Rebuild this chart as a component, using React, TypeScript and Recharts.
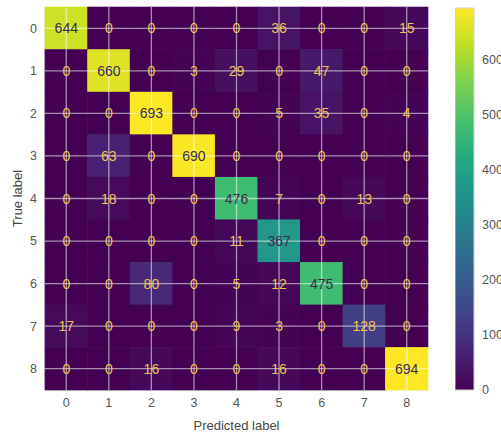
import { ScatterChart, Scatter, XAxis, YAxis, BarChart, Bar } from 'recharts';

const classLabels = [0, 1, 2, 3, 4, 5, 6, 7, 8];

// rows = true label, columns = predicted label
const matrix = [
  [644, 0, 0, 0, 0, 36, 0, 0, 15],
  [0, 660, 0, 3, 29, 0, 47, 0, 0],
  [0, 0, 693, 0, 0, 5, 35, 0, 4],
  [0, 63, 0, 690, 0, 0, 0, 0, 0],
  [0, 18, 0, 0, 476, 7, 0, 13, 0],
  [0, 0, 0, 0, 11, 367, 0, 0, 0],
  [0, 0, 80, 0, 5, 12, 475, 0, 0],
  [17, 0, 0, 0, 9, 3, 0, 128, 0],
  [0, 0, 16, 0, 0, 16, 0, 0, 694],
];

const colorbarTicks = [0, 100, 200, 300, 400, 500, 600];

const vmin = Math.min(...matrix.flat());
const vmax = Math.max(...matrix.flat());
const thresh = (vmin + vmax) / 2;

const cells = matrix.flatMap((row, i) => row.map((v, j) => ({ x: j, y: i, v })));

const viridis = ['#440154', '#482475', '#414487', '#355f8d', '#2a788e', '#21918c', '#22a884', '#44bf70', '#7ad151', '#bddf26', '#fde725'];

const hex = (c: string) => [1, 3, 5].map((k) => parseInt(c.slice(k, k + 2), 16));
const colorAt = (t: number) => {
  const p = Math.max(0, Math.min(1, t)) * (viridis.length - 1);
  const i = Math.min(Math.floor(p), viridis.length - 2);
  const f = p - i;
  const a = hex(viridis[i]);
  const b = hex(viridis[i + 1]);
  const m = a.map((x, k) => Math.round(x + (b[k] - x) * f));
  return `rgb(${m[0]},${m[1]},${m[2]})`;
};

const W = 501;
const H = 432;
const M = { top: 7, right: 73, left: 0, bottom: 0 };
const Y_W = 45;
const X_H = 42;
const plotW = W - M.left - M.right - Y_W;
const plotH = H - M.top - M.bottom - X_H;
const cw = plotW / classLabels.length;
const ch = plotH / classLabels.length;

const CellRect = (props: any) => {
  const { cx, cy, payload } = props;
  return (
    <rect
      x={cx - cw / 2 - 0.3}
      y={cy - ch / 2 - 0.3}
      width={cw + 0.6}
      height={ch + 0.6}
      fill={colorAt((payload.v - vmin) / (vmax - vmin))}
    />
  );
};

// grid lines pass through the cell centres (seaborn whitegrid style), text on top
const CellText = (props: any) => {
  const { cx, cy, payload } = props;
  return (
    <g>
      <line x1={cx - cw / 2} x2={cx + cw / 2} y1={cy} y2={cy} stroke="#ffffff" strokeOpacity={0.55} strokeWidth={1.3} />
      <line x1={cx} x2={cx} y1={cy - ch / 2} y2={cy + ch / 2} stroke="#ffffff" strokeOpacity={0.55} strokeWidth={1.3} />
      <text
        x={cx}
        y={cy}
        textAnchor="middle"
        dominantBaseline="central"
        fontSize={14}
        fill={payload.v > thresh ? '#3a2d4f' : '#f0c24e'}
      >
        {payload.v}
      </text>
    </g>
  );
};

const tickStyle = { fill: '#555555', fontSize: 12.5 };
const frame = { stroke: '#dcdcdc', strokeWidth: 1.2 };

export default function App() {
  return (
    <div
      style={{
        position: 'absolute',
        left: 0,
        top: 0,
        width: W,
        height: H,
        overflow: 'hidden',
        background: '#ffffff',
        fontFamily: '"Liberation Sans", Arial, sans-serif',
      }}
    >
      <div style={{ position: 'absolute', left: 0, top: 0 }}>
        <ScatterChart width={W} height={H} margin={M}>
          <XAxis
            type="number"
            dataKey="x"
            domain={[-0.5, 8.5]}
            ticks={classLabels}
            tickLine={false}
            axisLine={frame}
            height={X_H}
            tick={tickStyle}
            label={{ value: 'Predicted label', position: 'insideBottom', offset: 2, fill: '#444444', fontSize: 13 }}
          />
          <XAxis xAxisId="top" orientation="top" type="number" domain={[-0.5, 8.5]} height={0} tick={false} tickLine={false} axisLine={frame} />
          <YAxis
            type="number"
            dataKey="y"
            domain={[-0.5, 8.5]}
            ticks={classLabels}
            reversed
            tickLine={false}
            axisLine={frame}
            width={Y_W}
            tick={tickStyle}
            label={{ value: 'True label', angle: -90, position: 'insideLeft', offset: 17, fill: '#444444', fontSize: 13, style: { textAnchor: 'middle' } }}
          />
          <YAxis yAxisId="right" orientation="right" type="number" domain={[-0.5, 8.5]} width={0} tick={false} tickLine={false} axisLine={frame} />
          <Scatter data={cells} shape={<CellRect />} isAnimationActive={false} />
          <Scatter data={cells} shape={<CellText />} isAnimationActive={false} />
        </ScatterChart>
      </div>
      <div style={{ position: 'absolute', left: 455, top: 0 }}>
        <BarChart
          width={70}
          height={H}
          data={[{ name: 'scale', v: vmax }]}
          margin={{ top: 8, right: 0, left: 0, bottom: 42 }}
          barCategoryGap={0}
        >
          <defs>
            <linearGradient id="viridisGrad" x1="0" y1="1" x2="0" y2="0">
              {viridis.map((c, i) => (
                <stop key={c} offset={i / (viridis.length - 1)} stopColor={c} />
              ))}
            </linearGradient>
          </defs>
          <XAxis dataKey="name" hide />
          <YAxis
            orientation="right"
            domain={[0, vmax]}
            ticks={colorbarTicks}
            tickLine={false}
            axisLine={false}
            width={51}
            tick={tickStyle}
          />
          <Bar dataKey="v" fill="url(#viridisGrad)" stroke="#d0d0d0" strokeWidth={1} isAnimationActive={false} />
        </BarChart>
      </div>
    </div>
  );
}
